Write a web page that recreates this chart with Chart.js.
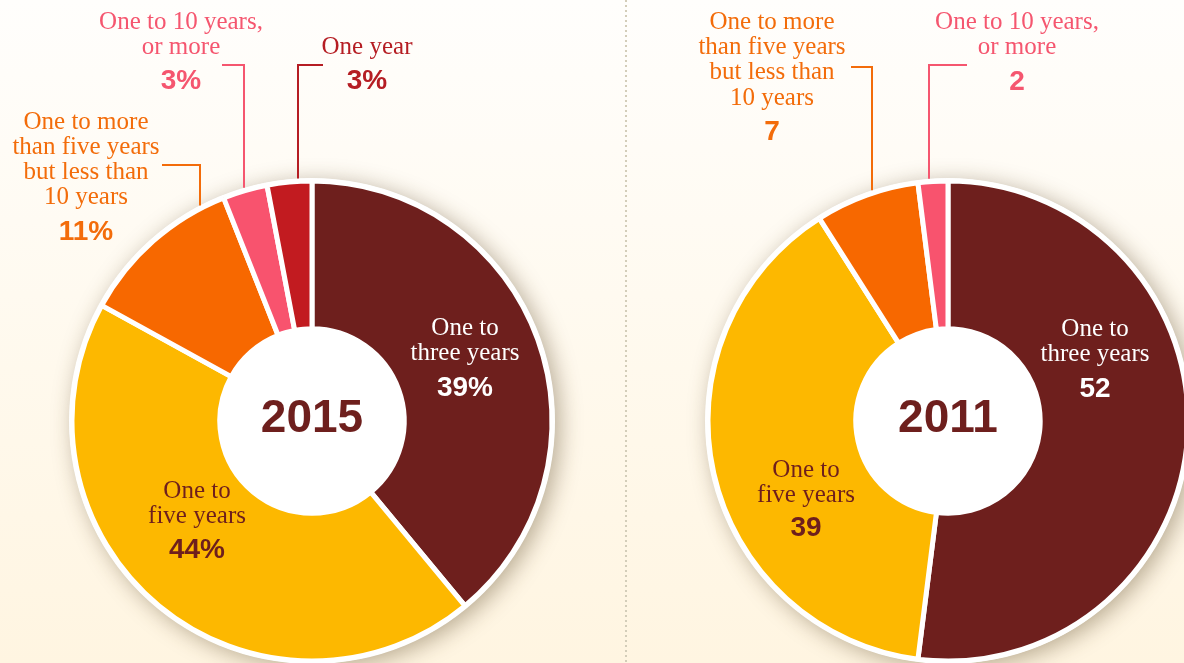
<!DOCTYPE html>
<html>
<head>
<meta charset="utf-8">
<script src="https://cdn.jsdelivr.net/npm/chart.js@4"></script>
<style>
  html, body { margin: 0; padding: 0; width: 1184px; height: 663px; overflow: hidden;
    background: linear-gradient(to bottom, #fffefc 0%, #fff5e1 100%); }
  #c1 { position: absolute; left: 0; top: 0; }
  #c2 { position: absolute; left: 627px; top: 0; }
  #divider { position: absolute; left: 625px; top: 0; width: 2px; height: 663px;
    background: repeating-linear-gradient(to bottom, #d3cdb9 0 2px, transparent 2px 5px); }
</style>
</head>
<body>
<canvas id="c1" width="627" height="663"></canvas>
<div id="divider"></div>
<canvas id="c2" width="627" height="663"></canvas>
<script>
// data -------------------------------------------
const categories = [
  ['One to', 'three years'],
  ['One to', 'five years'],
  ['One to more', 'than five years', 'but less than', '10 years'],
  ['One to 10 years,', 'or more'],
  ['One year']
];
const values2015 = [39, 44, 11, 3, 3];
const values2011 = [52, 39, 7, 2];
const sliceColors = ['#6e1f1d', '#fdb800', '#f76800', '#f8536e', '#c21b20'];

// label placement, relative to the doughnut centre
const layout2015 = [
  { dx: 153, ly: [-93, -68], vy: -33, color: '#ffffff' },
  { dx: -115, ly: [70, 95], vy: 129, color: '#6e1f1d' },
  { dx: -226, ly: [-299, -274, -249, -224], vy: -189, color: '#f36c0a', lead: { at: 0.85, y: -256, x: -150 } },
  { dx: -131, ly: [-399, -374], vy: -340, color: '#f5566f', lead: { at: 0.5, y: -356, x: -90 } },
  { dx: 55, ly: [-374], vy: -340, color: '#b51d23', lead: { at: 0.69, y: -356, x: 11 } }
];
const layout2011 = [
  { dx: 147, ly: [-92, -67], vy: -32, color: '#ffffff' },
  { dx: -142, ly: [49, 74], vy: 107, color: '#6e1f1d' },
  { dx: -176, ly: [-399, -374, -349, -323], vy: -289, color: '#f36c0a', lead: { at: 0.56, y: -354, x: -97 } },
  { dx: 69, ly: [-399, -374], vy: -339, color: '#f5566f', lead: { at: 0.37, y: -356, x: 19 } }
];

function labelPlugin(year, layout, values, suffix) {
  return {
    id: 'sliceLabels',
    beforeDatasetsDraw(chart) {   // white disc with soft shadow under the ring
      const arc = chart.getDatasetMeta(0).data[0];
      const ctx = chart.ctx;
      ctx.save();
      ctx.shadowColor = 'rgba(80,60,25,0.4)';
      ctx.shadowBlur = 22;
      ctx.shadowOffsetX = 5;
      ctx.shadowOffsetY = 4;
      ctx.fillStyle = '#fff';
      ctx.beginPath();
      ctx.arc(arc.x, arc.y, arc.outerRadius + 3, 0, Math.PI * 2);
      ctx.fill();
      ctx.restore();
    },
    afterDatasetsDraw(chart) {
      const meta = chart.getDatasetMeta(0);
      const ctx = chart.ctx;
      const cx = meta.data[0].x, cy = meta.data[0].y;
      ctx.save();
      ctx.textAlign = 'center';
      ctx.textBaseline = 'middle';
      layout.forEach((L, i) => {
        const arc = meta.data[i];
        if (L.lead) {
          const a = arc.startAngle + (arc.endAngle - arc.startAngle) * L.lead.at;
          const r = arc.outerRadius + 3;
          const px = Math.round(cx + Math.cos(a) * r), py = cy + Math.sin(a) * r;
          ctx.strokeStyle = L.color;
          ctx.lineWidth = 2;
          ctx.beginPath();
          ctx.moveTo(px, py);
          ctx.lineTo(px, cy + L.lead.y);
          ctx.lineTo(cx + L.lead.x, cy + L.lead.y);
          ctx.stroke();
        }
        ctx.fillStyle = L.color;
        ctx.font = '25px "Liberation Serif"';
        categories[i].forEach((t, k) => ctx.fillText(t, cx + L.dx, cy + L.ly[k]));
        ctx.font = 'bold 28px "Liberation Sans"';
        ctx.fillText(values[i] + suffix, cx + L.dx, cy + L.vy);
      });
      ctx.fillStyle = '#6e1f1d';
      ctx.font = 'bold 46px "Liberation Sans"';
      ctx.fillText(year, cx, cy - 2);
      ctx.restore();
    }
  };
}

function donut(id, year, values, layout, suffix, pad) {
  new Chart(document.getElementById(id), {
    type: 'doughnut',
    data: {
      labels: categories.slice(0, values.length).map(c => c.join(' ')),
      datasets: [{
        data: values,
        backgroundColor: sliceColors.slice(0, values.length),
        borderColor: '#ffffff',
        borderWidth: 5
      }]
    },
    options: {
      responsive: false,
      animation: false,
      radius: 240,
      cutout: 92,
      layout: { padding: pad },
      plugins: { legend: { display: false }, tooltip: { enabled: false } }
    },
    plugins: [labelPlugin(year, layout, values, suffix)]
  });
}

donut('c1', '2015', values2015, layout2015, '%', { left: 0, right: 3, top: 179, bottom: 0 });
donut('c2', '2011', values2011, layout2011, '', { left: 15, right: 0, top: 179, bottom: 0 });
</script>
</body>
</html>
